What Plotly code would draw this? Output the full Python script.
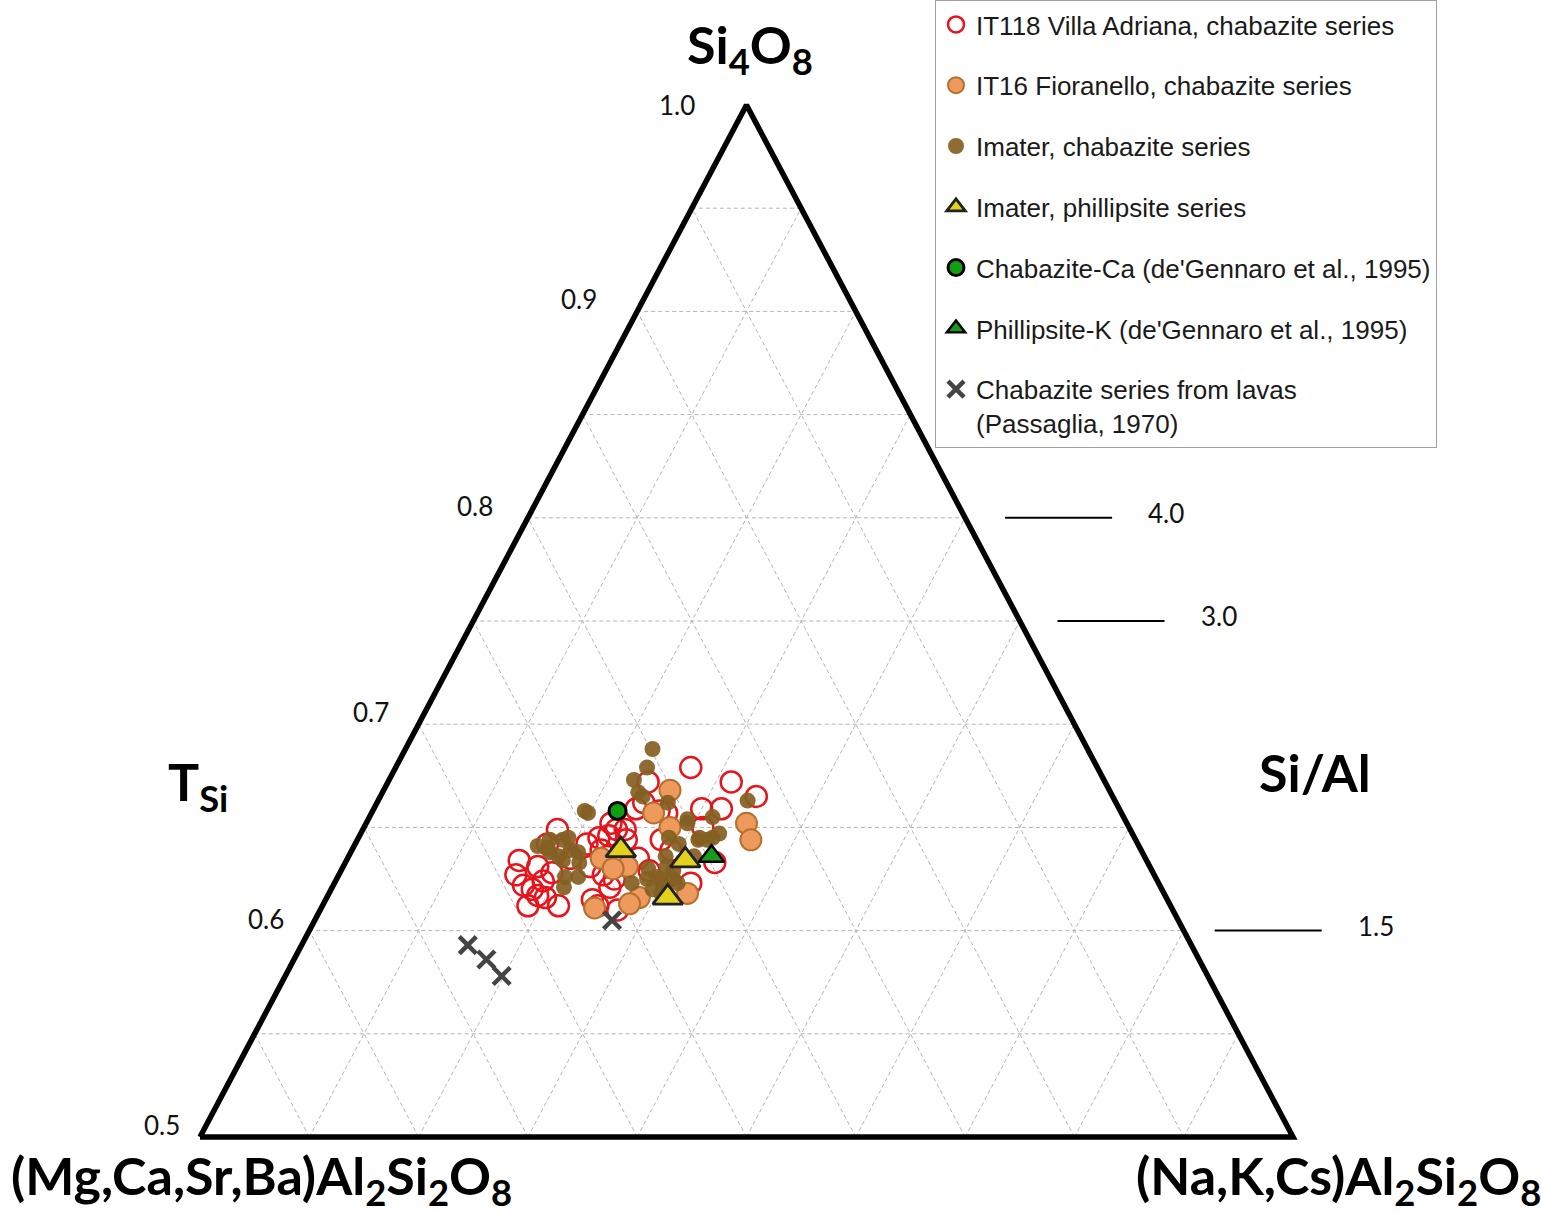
import plotly.graph_objects as go

# ---------------- data (ternary fractions: T_Si = Si4O8 apex, NaK = (Na,K,Cs)Al2Si2O8 apex) ----------------
it118_tsi = [0.634, 0.627, 0.631, 0.624, 0.620, 0.617, 0.616, 0.612, 0.612, 0.622,
             0.649, 0.642, 0.641, 0.642, 0.645, 0.646, 0.649, 0.649, 0.631, 0.627,
             0.625, 0.621, 0.615, 0.610, 0.644, 0.635, 0.659, 0.662, 0.672, 0.658,
             0.657, 0.644, 0.639, 0.679, 0.672, 0.665, 0.659, 0.659, 0.650, 0.623,
             0.633, 0.639, 0.635, 0.628, 0.612, 0.629, 0.652]
it118_nak = [0.079, 0.081, 0.089, 0.095, 0.092, 0.096, 0.100, 0.094, 0.108, 0.087,
             0.089, 0.088, 0.094, 0.106, 0.110, 0.114, 0.116, 0.120, 0.113, 0.121,
             0.127, 0.127, 0.122, 0.136, 0.123, 0.133, 0.120, 0.122, 0.119, 0.131,
             0.135, 0.139, 0.146, 0.135, 0.157, 0.172, 0.150, 0.159, 0.155, 0.163,
             0.169, 0.114, 0.102, 0.097, 0.126, 0.141, 0.112]

it16_tsi = [0.668, 0.657, 0.652, 0.644, 0.650, 0.635, 0.631, 0.618, 0.616, 0.613, 0.611, 0.630]
it16_nak = [0.131, 0.129, 0.174, 0.180, 0.140, 0.116, 0.130, 0.164, 0.143, 0.140, 0.125, 0.124]

imater_cha_tsi = [0.688, 0.679, 0.673, 0.667, 0.665, 0.658, 0.662, 0.654, 0.655, 0.663,
                  0.645, 0.645, 0.645, 0.642, 0.644, 0.644, 0.639, 0.636, 0.633, 0.626,
                  0.621, 0.626, 0.631, 0.623, 0.625, 0.623, 0.620, 0.657, 0.640, 0.645,
                  0.638, 0.634, 0.638, 0.626, 0.647, 0.652, 0.636, 0.629, 0.625, 0.623,
                  0.636, 0.644, 0.644, 0.625, 0.641, 0.630, 0.618]
imater_cha_nak = [0.113, 0.115, 0.112, 0.117, 0.120, 0.097, 0.133, 0.146, 0.157, 0.169,
                  0.156, 0.162, 0.142, 0.148, 0.088, 0.094, 0.100, 0.096, 0.107, 0.110,
                  0.106, 0.146, 0.148, 0.150, 0.154, 0.136, 0.147, 0.099, 0.089, 0.096,
                  0.091, 0.099, 0.104, 0.104, 0.164, 0.147, 0.145, 0.152, 0.148, 0.157,
                  0.158, 0.156, 0.160, 0.142, 0.084, 0.140, 0.152]

imater_phi_tsi = [0.639, 0.634, 0.616]
imater_phi_nak = [0.123, 0.155, 0.156]

chaca_tsi = [0.658]
chaca_nak = [0.112]

phik_tsi = [0.636]
phik_nak = [0.166]

lavas_tsi = [0.605, 0.593, 0.586, 0.578]
lavas_nak = [0.136, 0.076, 0.088, 0.099]

grid_levels = [0.05, 0.10, 0.15, 0.20, 0.25, 0.30, 0.35, 0.40, 0.45]
tsi_ticks = [0.5, 0.6, 0.7, 0.8, 0.9, 1.0]
tsi_tick_labels = ["0.5", "0.6", "0.7", "0.8", "0.9", "1.0"]
si_al_ticks = [4.0, 3.0, 1.5]
si_al_labels = ["4.0", "3.0", "1.5"]

series_names = [
    "IT118 Villa Adriana, chabazite series",
    "IT16 Fioranello, chabazite series",
    "Imater, chabazite series",
    "Imater, phillipsite series",
    "Chabazite-Ca (de'Gennaro et al., 1995)",
    "Phillipsite-K (de'Gennaro et al., 1995)",
    "Chabazite series from lavas<br>(Passaglia, 1970)",
]

AMIN = 0.5  # lower limit of T_Si shown


def tern_xy(tsi, nak):
    """ternary (a = T_Si, c = NaK) -> plane coordinates"""
    xs = [c + a / 2 for a, c in zip(tsi, nak)]
    ys = list(tsi)
    return xs, ys


fig = go.Figure()

# ---------- grid ----------
gx, gy = [], []
for k in grid_levels:
    a = AMIN + k  # horizontal lines
    x, y = tern_xy([a, a], [0, 1 - a])
    gx += x + [None]; gy += y + [None]
    # constant NaK lines
    x, y = tern_xy([AMIN, 1 - k], [k, k])
    gx += x + [None]; gy += y + [None]
    # constant (Mg,Ca..) lines
    x, y = tern_xy([AMIN, 1 - k], [1 - AMIN - k, 0])
    gx += x + [None]; gy += y + [None]
fig.add_trace(go.Scatter(x=gx, y=gy, mode="lines", hoverinfo="skip", showlegend=False,
                         line=dict(color="#b4b4b4", width=1, dash="4px,3px")))

# ---------- outline ----------
ox, oy = tern_xy([AMIN, AMIN, 1.0, AMIN], [0, 1 - AMIN, 0, 0])
fig.add_trace(go.Scatter(x=ox, y=oy, mode="lines", hoverinfo="skip", showlegend=False,
                         line=dict(color="black", width=5.5)))

# ---------- data ----------
styles = [
    (it118_tsi, it118_nak, dict(symbol="circle-open", size=21, color="#e8141b", line=dict(width=2.5, color="#e8141b"))),
    (it16_tsi, it16_nak, dict(symbol="circle", size=21, color="#ee9a5c", line=dict(width=2, color="#b5702f"))),
    (imater_cha_tsi, imater_cha_nak, dict(symbol="circle", size=16, color="#846022", opacity=0.93, line=dict(width=0))),
    (imater_phi_tsi, imater_phi_nak, dict(symbol="triangle-up", size=26, color="#e2d21c", line=dict(width=2.8, color="#222"))),
    (chaca_tsi, chaca_nak, dict(symbol="circle", size=17, color="#11a012", line=dict(width=3, color="black"))),
    (phik_tsi, phik_nak, dict(symbol="triangle-up", size=22, color="#1a9a1a", line=dict(width=2.4, color="black"))),
    (lavas_tsi, lavas_nak, dict(symbol="x-thin-open", size=17, color="#444444", line=dict(width=4.5, color="#444444"))),
]
for i, ((t, n, mk), name) in enumerate(zip(styles, series_names)):
    x, y = tern_xy(t, n)
    fig.add_trace(go.Scatter(x=x, y=y, mode="markers", name=name, marker=mk,
                             legendgroup=f"g{i}"))

# ---------- T_Si tick labels (left edge) ----------
for v, lab in zip(tsi_ticks, tsi_tick_labels):
    x, y = tern_xy([v], [0])
    apex = v >= 1.0
    fig.add_annotation(x=x[0], y=y[0], text=lab, showarrow=False, xanchor="right", yanchor="middle",
                       xshift=-(18 + 50 * (v - AMIN)) - (7 if apex else 0), yshift=0 if apex else 12,
                       font=dict(family="Lato", size=26, color="#111"))

# ---------- Si/Al ticks (right side) ----------
for r, lab in zip(si_al_ticks, si_al_labels):
    t = r / (1 + r)
    x, y = tern_xy([t], [1 - t])
    x0 = x[0] + (31 + 45 * (t - 0.6)) / 2186
    x1 = x0 + 107 / 2186
    fig.add_shape(type="line", x0=x0, x1=x1, y0=y[0], y1=y[0], xref="x", yref="y",
                  line=dict(color="black", width=2))
    fig.add_annotation(x=x1, y=y[0], text=lab, showarrow=False, xanchor="left", yanchor="middle",
                       xshift=34, yshift=5, font=dict(family="Lato", size=26, color="#111"))

# ---------- titles ----------
W, H = 1541, 1214
title_font = dict(family="Lato", size=52, color="black", weight=700)
titles = [
    ("Si<sub>4</sub>O<sub>8</sub>", 750, 48),
    ("T<sub>Si</sub>", 198, 785),
    ("Si/Al", 1315, 772),
    ("(Mg,Ca,Sr,Ba)Al<sub>2</sub>Si<sub>2</sub>O<sub>8</sub>", 261, 1179),
    ("(Na,K,Cs)Al<sub>2</sub>Si<sub>2</sub>O<sub>8</sub>", 1338, 1179),
]
for txt, px, py in titles:
    fig.add_annotation(x=px / W, y=1 - py / H, xref="paper", yref="paper", text=txt,
                       showarrow=False, xanchor="center", yanchor="middle", font=title_font)

# ---------- layout ----------
xpx = 2186.0  # px per unit
ypx = 2064.0
fig.update_layout(
    width=W, height=H,
    margin=dict(l=0, r=0, t=0, b=0, autoexpand=False),
    paper_bgcolor="white", plot_bgcolor="white",
    xaxis=dict(range=[0.25 - 200 / xpx, 0.25 + (W - 200) / xpx], visible=False, fixedrange=True),
    yaxis=dict(range=[0.5 - (H - 1137) / ypx, 0.5 + 1137 / ypx], visible=False, fixedrange=True),
    legend=dict(x=935 / W, y=1.0, xanchor="left", yanchor="top",
                bgcolor="white", bordercolor="#a0a0a0", borderwidth=1,
                font=dict(family="Liberation Sans", size=26, color="#1a1a1a"),
                itemsizing="trace", valign="top", tracegroupgap=24,
                itemwidth=30, traceorder="grouped"),
    showlegend=True,
)

fig.write_html("out.html")
